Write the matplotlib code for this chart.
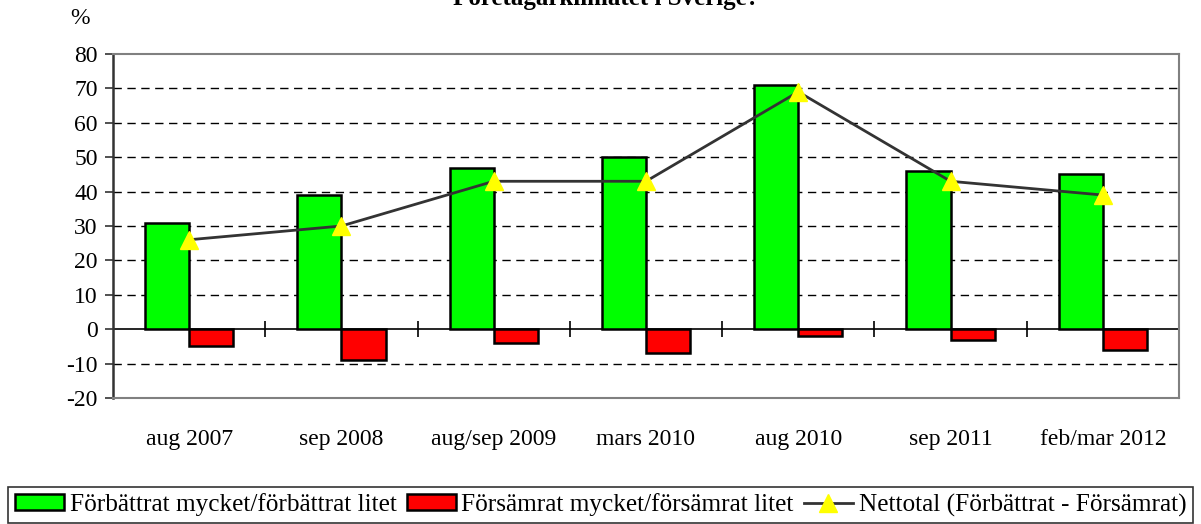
import matplotlib
matplotlib.use("Agg")
import matplotlib.pyplot as plt
import numpy as np
from matplotlib.patches import Patch
from matplotlib.lines import Line2D

categories = ["aug 2007", "sep 2008", "aug/sep 2009", "mars 2010", "aug 2010", "sep 2011", "feb/mar 2012"]
improved = [31, 39, 47, 50, 71, 46, 45]
worsened = [-5, -9, -4, -7, -2, -3, -6]
net = [26, 30, 43, 43, 69, 43, 39]
yticks = [-20, -10, 0, 10, 20, 30, 40, 50, 60, 70, 80]
labels = ["Förbättrat mycket/förbättrat litet", "Försämrat mycket/försämrat litet",
          "Nettotal (Förbättrat - Försämrat)"]
title = "Företagarklimatet i Sverige?"

plt.rcParams['font.family'] = ['Liberation Serif', 'DejaVu Serif']
W, H = 1201, 524
FS = 17
fig = plt.figure(figsize=(W / 100, H / 100), dpi=100)
ax = fig.add_axes([113 / W, (H - 398) / H, (1179 - 113) / W, (398 - 54) / H])

n = len(categories)
x = np.arange(n)
bw = 0.29
ax.bar(x - bw / 2, improved, bw, color='#00ff00', edgecolor='black', linewidth=1.8, zorder=3)
ax.bar(x + bw / 2, worsened, bw, color='#ff0000', edgecolor='black', linewidth=1.8, zorder=3)
ax.plot(x, net, color='#333333', lw=2, marker='^', markersize=13, markerfacecolor='#ffff00',
        markeredgecolor='#ffff00', zorder=4)

ax.set_xlim(-0.5, n - 0.5)
ax.set_ylim(-20, 80)
ax.set_yticks(yticks)
ax.set_yticklabels([str(v) for v in yticks])
for v in yticks:
    if v not in (-20, 0, 80):
        ax.axhline(v, color='black', lw=1, ls=(0, (6, 4)), zorder=1)
ax.axhline(0, color='black', lw=1.2, zorder=2)
bounds = np.arange(n - 1) + 0.5
ax.plot(bounds, np.zeros_like(bounds), ls='none', marker='|', markersize=11,
        markeredgewidth=1.2, color='black', zorder=2)

ax.set_xticks(x)
ax.set_xticklabels(categories)
ax.tick_params(axis='x', length=0, pad=22, labelsize=FS)
ax.tick_params(axis='y', direction='out', length=6, width=1.2, color='#333333', labelsize=FS, pad=5)
for s in ['top', 'right', 'bottom']:
    ax.spines[s].set_color('#808080')
    ax.spines[s].set_linewidth(1.5)
ax.spines['left'].set_color('#333333')
ax.spines['left'].set_linewidth(1.8)

fig.text(80 / W, 1 - 18 / H, "%", fontsize=FS, ha='center', va='center')
fig.text(0.505, 1 - 5 / H, title, fontsize=18, fontweight='bold', ha='center', va='baseline')

handles = [Patch(facecolor='#00ff00', edgecolor='black', linewidth=1.8),
           Patch(facecolor='#ff0000', edgecolor='black', linewidth=1.8),
           Line2D([0], [0], color='#333333', lw=2, marker='^', markersize=13,
                  markerfacecolor='#ffff00', markeredgecolor='#ffff00')]
leg = fig.legend(handles, labels, loc='center', bbox_to_anchor=(0.5, 1 - 505 / H), ncol=3,
                 fontsize=18.2, frameon=True, fancybox=False, edgecolor='black',
                 handlelength=1.95, handleheight=0.6, handletextpad=0.22, columnspacing=0.4,
                 borderpad=0.25, borderaxespad=0)
leg.get_frame().set_linewidth(1.2)

fig.savefig("out.png", dpi=100)
